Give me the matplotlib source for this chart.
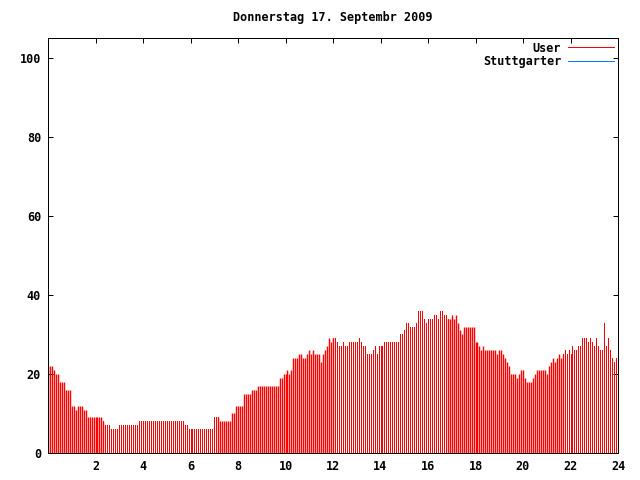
import numpy as np
import matplotlib
matplotlib.use("Agg")
import matplotlib.pyplot as plt
from matplotlib.lines import Line2D

titel = "Donnerstag 17. Septembr 2009"
serien = ["User", "Stuttgarter"]
legenden_farben = ["#ff0000", "#0080ff"]
balken_farbe = "#ff0000"

# Werte alle 5 Minuten, eine Zeile pro Stunde (0 bis 24 Uhr)
stundenwerte = [
    [22, 22, 22, 21, 20, 20, 18, 18, 18, 16, 16, 16],
    [12, 12, 11, 12, 12, 12, 11, 11, 9, 9, 9, 9],
    [9, 9, 9, 9, 8, 7, 7, 7, 6, 6, 6, 6],
    [7, 7, 7, 7, 7, 7, 7, 7, 7, 7, 8, 8],
    [8, 8, 8, 8, 8, 8, 8, 8, 8, 8, 8, 8],
    [8, 8, 8, 8, 8, 8, 8, 8, 8, 7, 7, 6],
    [6, 6, 6, 6, 6, 6, 6, 6, 6, 6, 6, 6],
    [9, 9, 9, 8, 8, 8, 8, 8, 8, 10, 10, 12],
    [12, 12, 12, 15, 15, 15, 15, 16, 16, 16, 17, 17],
    [17, 17, 17, 17, 17, 17, 17, 17, 17, 19, 19, 20],
    [20, 21, 20, 21, 24, 24, 24, 25, 25, 24, 24, 25],
    [26, 25, 26, 25, 25, 25, 23, 25, 26, 27, 29, 28],
    [29, 29, 28, 27, 27, 28, 27, 27, 28, 28, 28, 28],
    [28, 29, 28, 27, 27, 25, 25, 25, 26, 27, 25, 27],
    [27, 27, 28, 28, 28, 28, 28, 28, 28, 28, 30, 30],
    [31, 33, 33, 32, 32, 32, 33, 36, 36, 36, 34, 33],
    [34, 34, 34, 35, 35, 34, 36, 36, 35, 35, 34, 34],
    [35, 34, 35, 33, 31, 30, 32, 32, 32, 32, 32, 32],
    [28, 28, 27, 26, 27, 26, 26, 26, 26, 26, 26, 25],
    [26, 26, 25, 24, 23, 22, 20, 20, 20, 19, 20, 21],
    [21, 19, 18, 18, 18, 19, 20, 21, 21, 21, 21, 21],
    [20, 22, 23, 24, 23, 24, 25, 24, 25, 26, 25, 26],
    [25, 27, 26, 26, 27, 27, 29, 29, 29, 28, 29, 28],
    [27, 29, 27, 26, 26, 33, 27, 29, 26, 24, 23, 24],
    [24],
]

# welcher Abschnitt (Index von/bis) zu welchem Nutzer gehoert
user_bereiche = [(0, 28), (86, 144), (202, 260)]
stuttgarter_bereiche = [(28, 86), (144, 202), (260, 288)]

x_ticks = [2, 4, 6, 8, 10, 12, 14, 16, 18, 20, 22, 24]
y_ticks = [0, 20, 40, 60, 80, 100]

werte = np.concatenate([np.array(z, dtype=float) for z in stundenwerte])
stunden = np.arange(len(werte)) / 12.0

plt.rcParams["font.family"] = "DejaVu Sans Mono"
plt.rcParams["font.weight"] = "bold"

fig = plt.figure(figsize=(6.4, 4.8), dpi=100)
ax = fig.add_axes([48 / 640, 1 - 453 / 480, 570 / 640, 415 / 480])

px = 72 / 100  # ein Pixel in Punkten

for a, b in stuttgarter_bereiche:
    ax.vlines(stunden[a:b + 1], 0, werte[a:b + 1], color=balken_farbe,
              linewidth=px, antialiased=False)
for a, b in user_bereiche:
    ax.vlines(stunden[a:b + 1], 0, werte[a:b + 1], color=balken_farbe,
              linewidth=1.4 * px)

ax.set_xlim(0, 24)
ax.set_ylim(0, 105)
ax.set_xticks(x_ticks)
ax.set_yticks(y_ticks)
ax.tick_params(direction="in", length=5 * px, width=px, labelsize=8.5,
               top=True, right=True, pad=5)
for s in ax.spines.values():
    s.set_linewidth(px)

fig.text(333 / 640, 1 - 18 / 480, titel, ha="center", va="center",
         fontsize=8.5, fontweight="bold")

griffe = [Line2D([0], [0], color=legenden_farben[0], lw=px),
          Line2D([0], [0], color=legenden_farben[1], lw=px)]
ax.legend(griffe, serien, loc="upper right", frameon=False, markerfirst=False,
          fontsize=8.5, handlelength=3.9, handletextpad=0.6, labelspacing=0.05,
          borderaxespad=0.2, borderpad=0.1)

fig.savefig("out.png", dpi=100)
